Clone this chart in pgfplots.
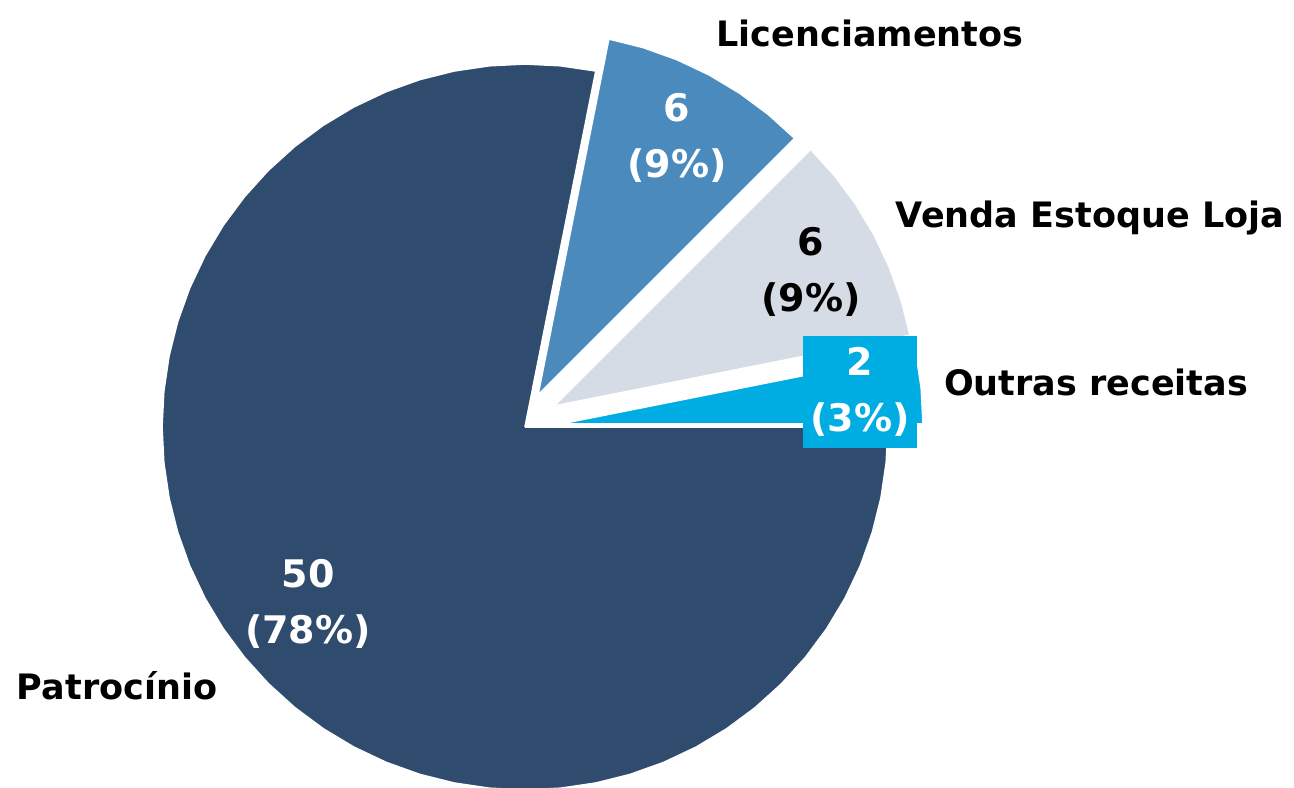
\documentclass[border=0pt]{standalone}
\usepackage{pgfplots}
\pgfplotsset{compat=1.18}
\usepackage{fontspec}
\setmainfont{DejaVu Sans}

\definecolor{patro}{HTML}{2F4B6E}
\definecolor{licen}{HTML}{4A8ABD}
\definecolor{venda}{HTML}{D5DCE5}
\definecolor{outras}{HTML}{00ADE3}

\tikzset{
  lbl/.style={font=\bfseries\fontsize{17.5}{28}\selectfont, align=center, inner sep=0pt},
  inlbl/.style={font=\bfseries\fontsize{19}{28}\selectfont, align=center, inner sep=0pt},
}

\begin{document}
\begin{tikzpicture}
\begin{axis}[
    x=0.5pt, y=0.5pt,
    xmin=-525, xmax=769,
    ymin=-360, ymax=427,
    hide axis,
    clip=false,
    data cs=polar,
    every axis plot/.append style={draw=white, line width=0.8pt, line join=round},
]
% pie: 50, 6, 6, 2 (total 64); angle, radius
% Patrocinio 50 (281.25 deg)
\addplot[fill=patro] coordinates {
    (0,0) (78.75,363) (84.375,363) (90,363) (95.625,363) (101.25,363)
    (106.875,363) (112.5,363) (118.125,363) (123.75,363) (129.375,363)
    (135,363) (140.625,363) (146.25,363) (151.875,363) (157.5,363)
    (163.125,363) (168.75,363) (174.375,363) (180,363) (185.625,363)
    (191.25,363) (196.875,363) (202.5,363) (208.125,363) (213.75,363)
    (219.375,363) (225,363) (230.625,363) (236.25,363) (241.875,363)
    (247.5,363) (253.125,363) (258.75,363) (264.375,363) (270,363)
    (275.625,363) (281.25,363) (286.875,363) (292.5,363) (298.125,363)
    (303.75,363) (309.375,363) (315,363) (320.625,363) (326.25,363)
    (331.875,363) (337.5,363) (343.125,363) (348.75,363) (354.375,363)
    (360,363) (0,0)
};
% Licenciamentos 6
\addplot[fill=licen, xshift=6.5pt, yshift=16pt] coordinates {
    (0,0) (45,363) (50.625,363) (56.25,363) (61.875,363) (67.5,363)
    (73.125,363) (78.75,363) (0,0)
};
% Venda Estoque Loja 6
\addplot[fill=venda, xshift=14.5pt, yshift=10.5pt] coordinates {
    (0,0) (11.25,363) (16.875,363) (22.5,363) (28.125,363) (33.75,363)
    (39.375,363) (45,363) (0,0)
};
% Outras receitas 2
\addplot[fill=outras, xshift=17.5pt, yshift=1.5pt] coordinates {
    (0,0) (0,363) (5.625,363) (11.25,363) (0,0)
};

\node[inlbl, text=white] at (axis cs:152,289) {6\\(9\%)};
\node[inlbl, text=black] at (axis cs:286,155) {6\\(9\%)};
\node[inlbl, text=white] at (axis cs:-217,-177) {50\\(78\%)};
\node[inlbl, text=white, fill=outras, minimum width=57pt, minimum height=56pt]
    at (axis cs:335,35) {2\\(3\%)};

\node[lbl] at (axis cs:345,394) {Licenciamentos};
\node[lbl] at (axis cs:565,209) {Venda Estoque Loja};
\node[lbl] at (axis cs:571,45) {Outras receitas};
\node[lbl] at (axis cs:-408,-259) {Patrocínio};

\coordinate (bl) at (rel axis cs:0,0);
\coordinate (tr) at (rel axis cs:1,1);
\end{axis}
\pgfresetboundingbox
\path[use as bounding box] (bl) rectangle (tr);
\end{tikzpicture}
\end{document}
